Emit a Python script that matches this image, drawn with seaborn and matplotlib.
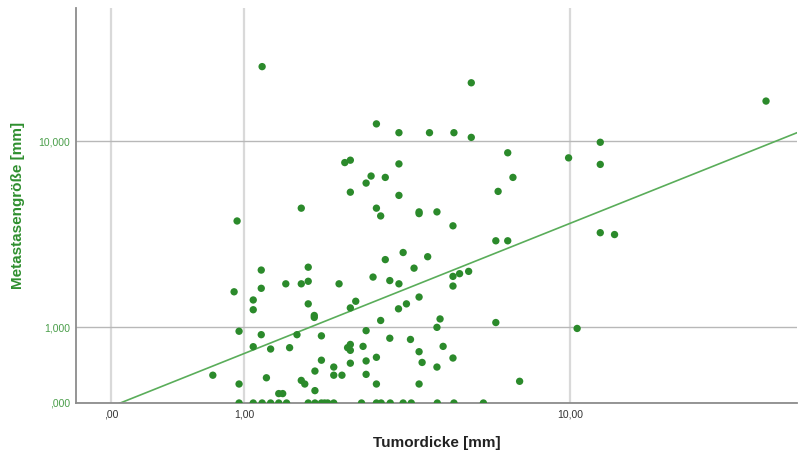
import numpy as np
import pandas as pd
import matplotlib
matplotlib.use("Agg")
import matplotlib.pyplot as plt
import seaborn as sns

# ---- data (Tumordicke [mm], Metastasengröße [mm]) ----
thick_upper = [1.20, 5.57, 29.7, 3.00, 3.50, 4.28, 5.00, 5.57, 11.9, 6.95,
               9.93, 2.39, 2.49, 3.50, 11.9, 2.89, 3.19, 7.17, 2.79, 2.49,
               3.50, 6.56, 1.70, 3.00, 3.09, 4.00, 4.00, 4.49, 0.93, 4.97,
               11.9, 12.9, 6.47, 6.95]
meta_upper = [20.8, 17.8, 14.9, 11.9, 10.9, 10.9, 10.9, 10.4, 9.9, 8.9,
              8.45, 8.05, 8.25, 7.94, 7.9, 7.0, 6.9, 6.9, 6.5, 5.9,
              5.7, 5.95, 4.96, 4.96, 4.55, 4.76, 4.67, 4.76, 4.3, 4.07,
              3.76, 3.68, 3.42, 3.42]

thick_mid = [3.19, 3.60, 4.23, 1.19, 1.80, 3.87, 0.90, 1.19, 1.49, 1.70,
             1.80, 2.29, 2.93, 3.29, 3.50, 4.97, 5.18, 5.48, 4.97, 1.10,
             1.10, 1.80, 1.89, 1.89, 2.59, 2.49, 3.49, 3.09, 4.00, 3.68,
             4.58, 6.47, 4.49, 10.43]
meta_mid = [2.72, 2.97, 2.82, 2.38, 2.47, 2.44, 1.77, 1.86, 1.98, 1.98,
            2.05, 1.98, 2.17, 2.07, 1.98, 2.19, 2.27, 2.34, 1.92, 1.57,
            1.35, 1.48, 1.23, 1.19, 1.54, 1.39, 1.37, 1.13, 1.64, 1.48,
            1.16, 1.09, 1.00, 0.98]

thick_low = [0.95, 1.19, 1.64, 2.00, 2.79, 3.29, 3.78, 1.10, 1.30, 1.54,
             2.44, 2.49, 2.49, 2.73, 4.67, 4.00, 2.00, 2.49, 2.79, 3.00,
             4.08, 4.97, 2.20, 4.49, 0.70, 1.25, 1.90, 2.20, 2.34, 2.79,
             0.95, 1.70, 1.75, 3.00, 4.00, 7.46, 1.90, 1.40, 1.45]
meta_low = [0.93, 0.87, 0.87, 0.85, 0.94, 0.81, 0.79, 0.675, 0.64, 0.66,
            0.66, 0.71, 0.62, 0.68, 0.68, 0.60, 0.48, 0.44, 0.47, 0.52,
            0.45, 0.51, 0.39, 0.39, 0.29, 0.26, 0.34, 0.29, 0.29, 0.30,
            0.19, 0.23, 0.19, 0.19, 0.19, 0.22, 0.12, 0.09, 0.09]

thick_zero = [0.95, 1.10, 1.20, 1.30, 1.40, 1.50, 1.80, 1.90, 2.00, 2.05,
              2.10, 2.20, 2.70, 3.00, 3.10, 3.30, 3.60, 3.80, 4.50, 5.00, 6.00]
meta_zero = [0.0, 0.0, 0.0, 0.0, 0.0, 0.0, 0.0, 0.0, 0.0, 0.0,
             0.0, 0.0, 0.0, 0.0, 0.0, 0.0, 0.0, 0.0, 0.0, 0.0, 0.0]

x_ticks = [0, 1, 10]
x_ticklabels = [",00", "1,00", "10,00"]
y_ticks = [0, 1, 10]
y_ticklabels = [",000", "1,000", "10,000"]
x_title = "Tumordicke [mm]"
y_title = "Metastasengröße [mm]"

df = pd.DataFrame({
    "Tumordicke": thick_upper + thick_mid + thick_low + thick_zero,
    "Metastasengroesse": meta_upper + meta_mid + meta_low + meta_zero,
})

# ---- style ----
sns.set_theme(style="white")
plt.rcParams['font.family'] = ['Liberation Sans', 'DejaVu Sans']

DOT = "#2b8a2b"
LINE = "#5aad5a"
GREEN_TXT = "#2f8f2f"
GREEN_TICK = "#4a9e4a"


def fwd(v):
    v = np.asarray(v, dtype=float)
    return np.log10(np.clip(v + 1.0, 1e-9, None))


def inv(v):
    return 10 ** np.asarray(v, dtype=float) - 1.0


W, H = 798, 454
fig = plt.figure(figsize=(W / 100, H / 100), dpi=100)
ax = fig.add_axes([76 / W, 1 - 403 / H, (797 - 76) / W, (403 - 8) / H])
ax.set_xscale("function", functions=(fwd, inv))
ax.set_yscale("function", functions=(fwd, inv))
ax.set_xlim(-0.169, 35.1)
ax.set_ylim(0, 36.3)

sns.scatterplot(data=df, x="Tumordicke", y="Metastasengroesse", color=DOT,
                s=28, edgecolor="none", linewidth=0, ax=ax, zorder=3)

# linear fit in the transformed (log10(v+1)) space
tx = fwd(df["Tumordicke"].values)
ty = fwd(df["Metastasengroesse"].values)
slope, intercept = np.polyfit(tx, ty, 1)
print("fit", slope, intercept)
x0, x1 = fwd(ax.get_xlim())
lx = np.linspace(x0, x1, 50)
ax.plot(inv(lx), inv(slope * lx + intercept), color=LINE, lw=1.2, zorder=2)

ax.set_xticks(x_ticks)
ax.set_xticklabels(x_ticklabels)
ax.set_yticks(y_ticks)
ax.set_yticklabels(y_ticklabels)
ax.minorticks_off()
ax.tick_params(axis="x", length=0, pad=5, labelsize=7.5, labelcolor="#333333")
ax.tick_params(axis="y", length=0, pad=4.3, labelsize=7.5, labelcolor=GREEN_TICK)

ax.set_axisbelow(True)
ax.xaxis.grid(True, color="#d9d9d9", linewidth=1.6)
ax.yaxis.grid(True, color="#b8b8b8", linewidth=1.0)

for s in ["top", "right"]:
    ax.spines[s].set_visible(False)
for s in ["left", "bottom"]:
    ax.spines[s].set_color("#8c8c8c")
    ax.spines[s].set_linewidth(1.3)

ax.set_xlabel(x_title, fontsize=11, fontweight="bold", color="#222222", va="center")
ax.set_ylabel(y_title, fontsize=11, fontweight="bold", color=GREEN_TXT, va="center")
ax.xaxis.set_label_coords(0.5, -40 / 395)
ax.yaxis.set_label_coords(-(76 - 18) / 721, 0.5)

fig.savefig("out.png", dpi=100)
